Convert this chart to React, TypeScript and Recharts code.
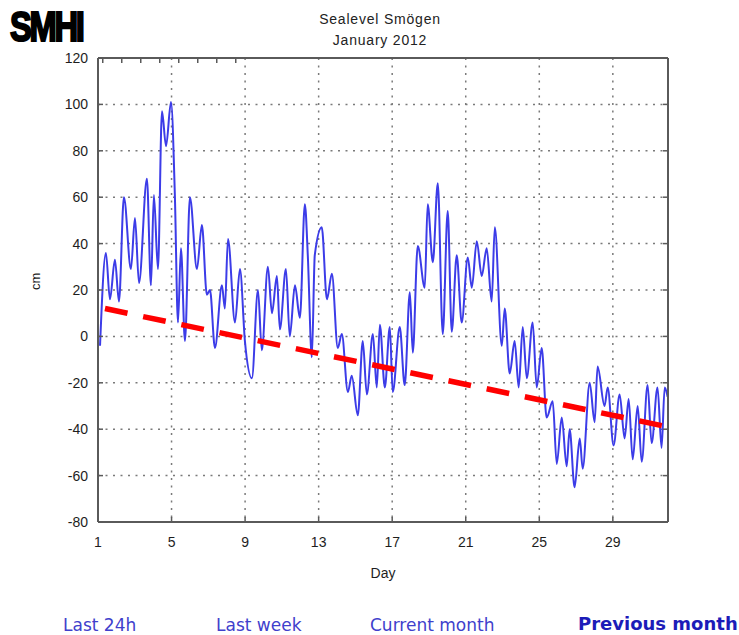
import { CartesianGrid, ComposedChart, Label, Line, XAxis, YAxis } from 'recharts';

// hourly-ish readings, reduced to the turning points
const days = [
  1.11, 1.43, 1.65, 1.92, 2.14, 2.41, 2.79, 3.01, 3.23, 3.66, 3.88, 4.04, 4.26, 4.48, 4.7, 4.97,
  5.18, 5.35, 5.51, 5.73, 6.0, 6.38, 6.65, 6.92, 7.09, 7.36, 7.74, 7.9, 8.07, 8.45, 8.72, 8.99,
  9.37, 9.7, 9.91, 10.24, 10.46, 10.73, 10.89, 11.22, 11.43, 11.71, 11.98, 12.25, 12.41, 12.63,
  12.79, 13.17, 13.45, 13.72, 14.04, 14.26, 14.59, 14.8, 15.13, 15.4, 15.62, 15.95, 16.16, 16.33,
  16.6, 16.87, 17.03, 17.41, 17.68, 17.96, 18.12, 18.39, 18.77, 18.93, 19.21, 19.48, 19.75, 20.02,
  20.24, 20.51, 20.78, 21.11, 21.33, 21.6, 21.87, 22.14, 22.41, 22.58, 22.96, 23.12, 23.39, 23.66,
  23.88, 24.1, 24.32, 24.64, 24.86, 25.13, 25.4, 25.73, 25.95, 26.22, 26.49, 26.65, 26.92, 27.2,
  27.36, 27.74, 28.01, 28.17, 28.55, 28.72, 29.04, 29.37, 29.64, 29.86, 30.08, 30.35, 30.57,
  30.89, 31.11, 31.43, 31.65, 31.82, 31.98,
];
const levels = [
  -4, 36, 16, 33, 15, 60, 29, 51, 23, 68, 22, 61, 29, 97, 82, 101,
  61, 6, 38, -2, 60, 29, 48, 18, 20, -5, 22, 12, 42, 6, 29, -2,
  -18, 20, -6, 30, 10, 26, 3, 29, 0, 22, 8, 57, 35, -9,
  35, 47, 16, 27, -5, 1, -24, -17, -34, -2, -25, 1, -22, 5,
  -22, 4, -24, 4, -21, 19, -7, 39, 21, 57, 32, 66, 1, 54,
  2, 35, 6, 34, 21, 41, 26, 38, 15, 47, -4, 12, -16, -2,
  -22, 4, -18, 6, -22, -5, -35, -28, -55, -35, -56, -40, -65, -44,
  -57, -20, -37, -13, -30, -22, -47, -25, -44, -27, -53, -30, -54,
  -21, -46, -22, -48, -22, -26,
];

// linear trend (red dashes)
const trendDays = [1.38, 32];
const trendLevels = [12, -39];

const dayTicks = [1, 5, 9, 13, 17, 21, 25, 29];
const cmTicks = [-80, -60, -40, -20, 0, 20, 40, 60, 80, 100, 120];
const links = ['Last 24h', 'Last week', 'Current month', 'Previous month'];

const seaData = days.map((day, i) => ({ day, level: levels[i] }));
const trendData = trendDays.map((day, i) => ({ day, trend: trendLevels[i] }));

const FRAME = '#5a5a5a';
const tickFont = { fill: '#1e1e1e', fontSize: 14, fontFamily: 'Liberation Sans, Arial, sans-serif' };
const linkLeft = [63, 216, 370, 578];

export default function App() {
  return (
    <div style={{ position: 'absolute', left: 0, top: 0, width: 739, height: 635, background: '#fff', overflow: 'hidden' }}>
      <div
        style={{
          position: 'absolute',
          left: 10,
          top: 5,
          fontFamily: 'Liberation Sans, Arial, sans-serif',
          fontWeight: 900,
          fontSize: 43,
          lineHeight: '43px',
          letterSpacing: -3,
          color: '#000',
          WebkitTextStroke: '2.2px #000',
          transform: 'scaleX(0.76)',
          transformOrigin: 'left top',
        }}
      >
        SMHI
      </div>
      <div
        style={{
          position: 'absolute',
          left: 0,
          width: 760,
          top: 9,
          textAlign: 'center',
          fontFamily: 'Liberation Sans, Arial, sans-serif',
          fontSize: 14,
          lineHeight: '21px',
          letterSpacing: 0.8,
          color: '#222',
        }}
      >
        <div>Sealevel Smögen</div>
        <div>January 2012</div>
      </div>

      <div style={{ position: 'absolute', left: 0, top: 0 }}>
        <ComposedChart width={739} height={600} data={seaData} margin={{ top: 57, right: 70, bottom: 22, left: 48 }}>
          <CartesianGrid stroke="#7a7a7a" strokeWidth={1.5} strokeDasharray="2 5.5" />
          <XAxis
            dataKey="day"
            type="number"
            domain={[1, 32]}
            ticks={dayTicks}
            allowDataOverflow
            height={56}
            tick={tickFont}
            tickSize={-5}
            tickMargin={20}
            axisLine={{ stroke: FRAME, strokeWidth: 2 }}
            tickLine={{ stroke: FRAME, strokeWidth: 1.5 }}
          >
            <Label value="Day" position="insideBottom" offset={0} style={{ ...tickFont, fontSize: 14 }} />
          </XAxis>
          <XAxis
            xAxisId="top"
            orientation="top"
            type="number"
            domain={[1, 32]}
            ticks={dayTicks}
            allowDataOverflow
            height={1}
            tickSize={-5}
            tickFormatter={() => ''}
            axisLine={{ stroke: FRAME, strokeWidth: 2 }}
            tickLine={{ stroke: FRAME, strokeWidth: 1.5 }}
          />
          <YAxis
            type="number"
            domain={[-80, 120]}
            ticks={cmTicks}
            allowDataOverflow
            width={50}
            tick={tickFont}
            tickSize={-5}
            tickMargin={15}
            axisLine={{ stroke: FRAME, strokeWidth: 2 }}
            tickLine={{ stroke: FRAME, strokeWidth: 1.5 }}
          >
            <Label value="cm" angle={-90} position="insideLeft" offset={-13} style={{ ...tickFont, fontSize: 13 }} />
          </YAxis>
          <YAxis
            yAxisId="right"
            orientation="right"
            type="number"
            domain={[-80, 120]}
            ticks={cmTicks}
            allowDataOverflow
            width={1}
            tickSize={-5}
            tickFormatter={() => ''}
            axisLine={{ stroke: FRAME, strokeWidth: 2 }}
            tickLine={{ stroke: FRAME, strokeWidth: 1.5 }}
          />
          <Line
            dataKey="level"
            type="monotone"
            stroke="#3c3ce8"
            strokeWidth={2}
            dot={false}
            isAnimationActive={false}
          />
          <Line
            data={trendData}
            dataKey="trend"
            type="linear"
            stroke="#ff0000"
            strokeWidth={5.5}
            strokeDasharray="23 16"
            dot={false}
            isAnimationActive={false}
          />
        </ComposedChart>
      </div>

      {links.map((t, i) => (
        <div
          key={t}
          style={{
            position: 'absolute',
            left: linkLeft[i],
            top: i === 3 ? 614 : 615,
            fontFamily: 'DejaVu Sans, Verdana, sans-serif',
            fontSize: i === 3 ? 18 : 17,
            lineHeight: '20px',
            fontWeight: i === 3 ? 700 : 400,
            color: i === 3 ? '#1c1cb8' : '#4040cc',
            whiteSpace: 'nowrap',
          }}
        >
          {t}
        </div>
      ))}
    </div>
  );
}
